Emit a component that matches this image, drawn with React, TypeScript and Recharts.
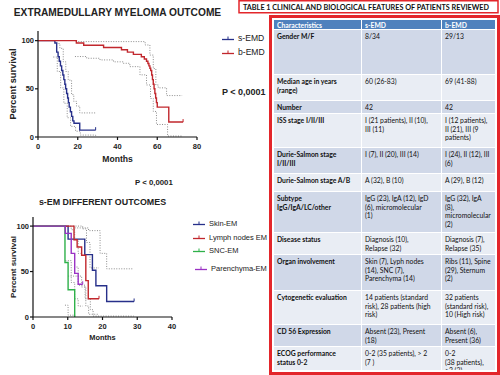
import React from "react";
import { LineChart, Line, XAxis, YAxis } from "recharts";

// survival curves, s-EMD vs b-EMD (months, percent survival)
const sEmdMonths = [0, 8.5, 9.4, 10.1, 10.7, 11.3, 11.9, 12.5, 13, 13.5, 13.9, 14.4, 14.9, 15.3, 15.7, 16.3, 16.9, 17.5, 18.1, 21, 29];
const sEmdSurv = [100, 97.6, 88.1, 83.3, 78.6, 73.8, 69, 64.3, 59.5, 54.8, 50, 45.2, 40.5, 35.7, 31, 26.2, 21.4, 16.7, 14.3, 7.1, 7.1];
const bEmdMonths = [0, 19.3, 23, 33, 42, 45, 48, 52, 53.5, 54.6, 55.3, 55.8, 56.3, 56.7, 57.2, 57.6, 58, 58.4, 58.8, 59.2, 59.6, 60, 65.8, 73];
const bEmdSurv = [100, 97.6, 95.2, 92.9, 90.5, 88.1, 85.7, 83.3, 81, 78.6, 76.2, 73.8, 71.4, 69, 64.3, 59.5, 54.8, 50, 45.2, 40.5, 35.7, 31, 15.5, 15.5];
// 95% confidence bands
const sHiMonths = [8, 9.5, 11, 12.7, 14, 15.2, 16.9, 18, 19.4, 21, 29];
const sHiSurv = [100, 97, 92, 78, 68, 59, 44, 37, 32, 25, 25];
const sLoMonths = [7.7, 9.7, 11.4, 13, 14.7, 16.4, 18.9, 21.3, 29];
const sLoSurv = [83, 68, 51, 35, 20, 11, 6, 2, 1];
const bHiMonths = [19, 51.3, 53.9, 56.3, 58, 59.3, 60.5, 64.7, 72.5];
const bHiSurv = [99, 99, 95.5, 85, 71, 54, 51, 43, 43];
const bLoMonths = [18.6, 24.5, 31.2, 38, 42.9, 46.2, 51.3, 54.6, 56.6, 58, 59.6, 65.2, 72.5];
const bLoSurv = [83.5, 81.7, 80, 78, 76.5, 73, 64.5, 54, 40, 26.5, 13, 1, 1];

// s-EM by site
const skinMonths = [0, 10.1, 14.9, 17.1, 18.1, 21.2, 29.1];
const skinSurv = [100, 85.7, 68.6, 51.4, 34.3, 17.1, 17.1];
const lymphMonths = [0, 11.8, 12.7, 14, 15.2, 15.9, 19];
const lymphSurv = [100, 85, 77, 68, 40, 20, 20];
const sncMonths = [0, 9.2, 10.1, 12];
const sncSurv = [100, 60, 30, 0];
const parMonths = [0, 9.3, 11, 12, 13, 14.3];
const parSurv = [100, 92, 70, 48, 36, 36];
const skinHiMonths = [12, 16, 19.3, 21.2, 29];
const skinHiSurv = [98, 95, 70, 53, 53];
const skinLoMonths = [10.1, 13, 15, 16.5, 17.3, 29];
const skinLoSurv = [45, 35, 20, 8, 1, 1];
const lymphHiMonths = [11.5, 14.3, 15.4, 16.4, 19];
const lymphHiSurv = [100, 97, 82, 54, 54];
const lymphLoMonths = [11.8, 13, 14, 15.2, 16, 19];
const lymphLoSurv = [55, 45, 33, 12, 3, 3];
const parHiMonths = [9.3, 11, 12, 13, 14.3];
const parHiSurv = [100, 96, 85, 70, 70];
const parLoMonths = [9.3, 11, 12, 13, 14.3];
const parLoSurv = [62, 38, 20, 12, 12];
const sncLoMonths = [9.2, 10.1, 12];
const sncLoSurv = [13, 2, 0];

const topTicksX = [0, 20, 40, 60, 80];
const bottomTicksX = [0, 10, 20, 30, 40];
const ticksY = [0, 50, 100];

// table
const rowLabels = ["Gender M/F", "Median age in years\n(range)", "Number", "ISS stage I/II/III", "Durie-Salmon stage\nI/II/III", "Durie-Salmon stage A/B", "Subtype\nIgG/IgA/LC/other", "Disease status", "Organ involvement", "Cytogenetic evaluation", "CD 56  Expression", "ECOG performance\nstatus 0-2"];
const sEmdCol = ["8/34", "60 (26-83)", "42", "I (21 patients), II (10),\nIII (11)", "I (7), II (20), III  (14)", "A (32), B (10)", " IgG (23), IgA (12), IgD\n(6), micromolecular\n(1)", " Diagnosis (10),\nRelapse (32)", "Skin (7), Lyph nodes\n(14), SNC (7),\nParenchyma (14)", "14 patients (standard\nrisk), 28 patients (high\nrisk)", "Absent (23), Present\n(18)", "0-2 (35 patients), > 2\n(7 )"];
const bEmdCol = ["29/13", "69 (41-88)", "42", "I (12 patients),\nII (21), III (9\npatients)", "I (24), II (12), III\n(6)", "A (29), B (12)", "IgG (32), IgA\n(8),\nmicromolecular\n(2)", "Diagnosis (7),\nRelapse (35)", "Ribs (11), Spine\n(29), Sternum\n(2)", "32 patients\n(standard risk),\n10 (High risk)", "Absent (6),\nPresent (36)", "0-2\n(38 patients),\n>2 (3)"];
const ROW_H = [45, 26, 13, 34, 26, 18, 41, 22, 36, 34, 22, 24];

const ARIAL = "'Liberation Sans', Arial, sans-serif";
const CALI = "Lato, 'Open Sans', sans-serif";
const NAVY = "#27308a";
const RED = "#c1272d";
const GREEN = "#2fb14a";
const PURPLE = "#9a32c4";
const CI = "#8c8c8c";

const pts = (xs: number[], ys: number[]) => xs.map((x, i) => ({ x, y: ys[i] }));

const censor = (n: number, color: string) => (p: any) =>
  p.index === n - 1 ? (
    <line key={p.index} x1={p.cx} x2={p.cx} y1={p.cy - 3} y2={p.cy} stroke={color} strokeWidth={1} />
  ) : (
    <g key={p.index} />
  );

const ax = { stroke: "#111", strokeWidth: 1.2 };
const tk = { fill: "#222", fontSize: 7.5, fontWeight: 700, fontFamily: ARIAL };

function Km({ series, bands, width, height, margin, xMax, xTicks, yW, label }: any) {
  return (
    <LineChart width={width} height={height} margin={margin}>
      <XAxis type="number" dataKey="x" domain={[0, xMax]} ticks={xTicks} tickSize={3} tickMargin={4} height={28} axisLine={ax} tickLine={ax} tick={tk}
        label={{ value: "Months", position: "insideBottom", offset: label.mOff, style: { fontSize: label.mSize, fontWeight: 700, fill: "#222", fontFamily: ARIAL } }} />
      <YAxis type="number" dataKey="y" domain={[0, 110]} ticks={ticksY} width={yW} tickSize={3} tickMargin={1} axisLine={ax} tickLine={ax} tick={tk}
        label={{ value: "Percent survival", angle: -90, position: "insideLeft", offset: label.pOff, style: { textAnchor: "middle", fontSize: label.pSize, fontWeight: 700, fill: "#222", fontFamily: ARIAL } }} />
      {bands.map((b: any, i: number) => (
        <Line key={"b" + i} data={b} dataKey="y" type="stepAfter" stroke={CI} strokeWidth={1} strokeDasharray="1 1.5" dot={false} isAnimationActive={false} />
      ))}
      {series.map((s: any) => (
        <Line key={s.name} data={s.data} dataKey="y" type="stepAfter" stroke={s.color} strokeWidth={1.4} dot={s.tick ? censor(s.data.length, s.color) : false} activeDot={false} isAnimationActive={false} />
      ))}
    </LineChart>
  );
}

function Sym({ color }: { color: string }) {
  return (
    <svg width={12} height={6} style={{ display: "block" }}>
      <line x1={0} x2={12} y1={4.5} y2={4.5} stroke={color} strokeWidth={1.3} />
      <line x1={6} x2={6} y1={1.5} y2={4.5} stroke={color} strokeWidth={1} />
    </svg>
  );
}

function LegendItem({ x, y, color, text, size }: any) {
  return (
    <div style={{ position: "absolute", left: x, top: y - 5, height: 10, display: "flex", alignItems: "center", fontFamily: ARIAL, fontSize: size, color: "#222", whiteSpace: "nowrap" }}>
      <Sym color={color} />
      <span style={{ marginLeft: 4 }}>{text}</span>
    </div>
  );
}

const abs = (x: number, y: number, extra: any = {}) => ({ position: "absolute" as const, left: x, top: y, ...extra });

export default function App() {
  const top = [
    { name: "s-EMD", color: NAVY, data: pts(sEmdMonths, sEmdSurv), tick: true },
    { name: "b-EMD", color: RED, data: pts(bEmdMonths, bEmdSurv), tick: true },
  ];
  const topBands = [pts(sHiMonths, sHiSurv), pts(sLoMonths, sLoSurv), pts(bHiMonths, bHiSurv), pts(bLoMonths, bLoSurv)];
  const bottom = [
    { name: "Skin-EM", color: NAVY, data: pts(skinMonths, skinSurv), tick: true },
    { name: "Lymph nodes EM", color: RED, data: pts(lymphMonths, lymphSurv), tick: true },
    { name: "SNC-EM", color: GREEN, data: pts(sncMonths, sncSurv), tick: false },
    { name: "Parenchyma-EM", color: PURPLE, data: pts(parMonths, parSurv), tick: true },
  ];
  const bottomBands = [
    pts(skinHiMonths, skinHiSurv), pts(skinLoMonths, skinLoSurv), pts(lymphHiMonths, lymphHiSurv), pts(lymphLoMonths, lymphLoSurv),
    pts(parHiMonths, parHiSurv), pts(parLoMonths, parLoSurv), pts(sncLoMonths, sncLoSurv),
  ];

  const cell = (w: number, bg: string, bold: boolean, color = "#111") => ({
    width: w, background: bg, padding: "1px 0 0 3px", boxSizing: "border-box" as const, color, fontWeight: bold ? 700 : 400,
    whiteSpace: "pre-line" as const, overflow: "hidden", lineHeight: "8.6px",
  });

  return (
    <div style={{ position: "absolute", left: 0, top: 0, width: 500, height: 375, background: "#fff", overflow: "hidden" }}>
      <div style={abs(0, 6, { width: 235, textAlign: "center", fontFamily: ARIAL, fontWeight: 700, fontSize: 10.2, color: "#222", lineHeight: "14px" })}>EXTRAMEDULLARY MYELOMA OUTCOME</div>
      <div style={abs(0, 0)}>
        <Km series={top} bands={topBands} width={260} height={165} margin={{ top: 31, right: 63, left: 0, bottom: 0 }} xMax={80} xTicks={topTicksX} yW={38}
          label={{ mOff: 3, mSize: 8.6, pOff: 13, pSize: 9.2 }} />
      </div>
      <LegendItem x={222} y={38} color={NAVY} text="s-EMD" size={8.6} />
      <LegendItem x={222} y={52} color={RED} text="b-EMD" size={8.6} />
      <div style={abs(222, 86, { fontFamily: ARIAL, fontWeight: 700, fontSize: 9, color: "#222", lineHeight: "12px" })}>P &lt; 0,0001</div>
      <div style={abs(135, 178, { fontFamily: ARIAL, fontWeight: 700, fontSize: 7.8, color: "#222", lineHeight: "10px" })}>P &lt; 0,0001</div>

      <div style={abs(0, 196, { width: 205, textAlign: "center", fontFamily: ARIAL, fontWeight: 700, fontSize: 8.9, color: "#222", lineHeight: "12px" })}>s-EM DIFFERENT OUTCOMES</div>
      <div style={abs(0, 190)}>
        <Km series={bottom} bands={bottomBands} width={260} height={155} margin={{ top: 27, right: 88, left: 0, bottom: 0 }} xMax={40} xTicks={bottomTicksX} yW={33}
          label={{ mOff: 5, mSize: 7.4, pOff: 12.7, pSize: 8 }} />
      </div>
      <LegendItem x={193} y={223} color={NAVY} text="Skin-EM" size={7.5} />
      <LegendItem x={193} y={237} color={RED} text="Lymph nodes EM" size={7.5} />
      <LegendItem x={193} y={250} color={GREEN} text="SNC-EM" size={7.5} />
      <LegendItem x={195} y={268} color={PURPLE} text="Parenchyma-EM" size={7.5} />

      <svg width={262} height={14} style={abs(238, 0)}>
        <rect x={1} y={0.75} width={259} height={12} fill="#fff" stroke="#e3262b" strokeWidth={1.5} />
        <text x={5} y={9.8} textLength={246} lengthAdjust="spacingAndGlyphs" fontFamily={CALI} fontWeight={700} fontSize={7.3} fill="#111">
          TABLE 1 CLINICAL AND BIOLOGICAL FEATURES OF PATIENTS REVIEWED
        </text>
      </svg>
      <div style={abs(269, 15, { width: 231, height: 360, border: "3px solid #e3262b", boxSizing: "border-box", padding: "2px 2px 0 2px", background: "#fff" })}>
        <div style={{ fontFamily: CALI, fontSize: 6.8 }}>
          <div style={{ display: "flex", height: 10, borderBottom: "1px solid #fff", boxSizing: "border-box" }}>
            <div style={cell(87, "#4f81bd", true, "#fff")}>Characteristics</div>
            <div style={{ ...cell(80, "#4f81bd", true, "#fff"), borderLeft: "1px solid #fff" }}>s-EMD</div>
            <div style={{ ...cell(54, "#4f81bd", true, "#fff"), borderLeft: "1px solid #fff" }}>b-EMD</div>
          </div>
          {rowLabels.map((lab, i) => {
            const bg = i % 2 === 0 ? "#d0d8e8" : "#e9edf4";
            return (
              <div key={lab} style={{ display: "flex", height: ROW_H[i], borderBottom: "1px solid #fff", boxSizing: "border-box" }}>
                <div style={{ ...cell(87, bg, true), paddingTop: 2 }}>{lab}</div>
                <div style={{ ...cell(80, bg, false), borderLeft: "1px solid #fff", paddingTop: 2 }}>{sEmdCol[i]}</div>
                <div style={{ ...cell(54, bg, false), borderLeft: "1px solid #fff", paddingTop: 2 }}>{bEmdCol[i]}</div>
              </div>
            );
          })}
        </div>
      </div>
    </div>
  );
}
